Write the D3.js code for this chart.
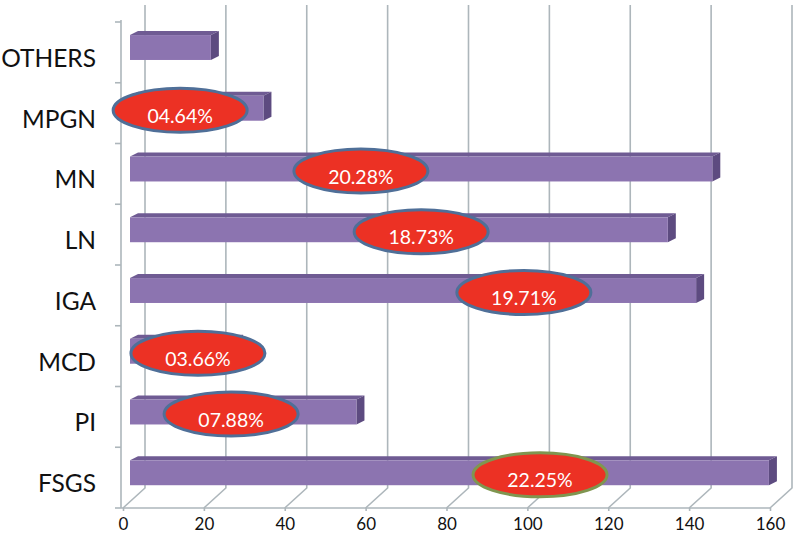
<!DOCTYPE html>
<html>
<head>
<meta charset="utf-8">
<script src="https://cdn.jsdelivr.net/npm/d3@7"></script>
<style>
  html, body { margin: 0; padding: 0; background: #ffffff; }
  svg { display: block; }
</style>
</head>
<body>
<svg id="chart" width="800" height="539"></svg>
<script>
// ---- data ----
const categories = ["OTHERS", "MPGN", "MN", "LN", "IGA", "MCD", "PI", "FSGS"];
const counts     = [20, 33, 144, 133, 140, 26, 56, 158];
const percentLabels = [null, "04.64%", "20.28%", "18.73%", "19.71%", "03.66%", "07.88%", "22.25%"];
// where each callout sits along the value axis (data units)
const calloutAt  = [null, 12.4, 57.1, 72.0, 97.4, 16.8, 25.0, 101.4];
const xTicks     = [0, 20, 40, 60, 80, 100, 120, 140, 160];

// ---- layout ----
const W = 800, H = 539;
const front = { left: 123, right: 770, top: 22, bottom: 508 };
const depth = { dx: 22, dy: -20 };     // back wall offset
const barShift = { dx: 7, dy: 0 };     // bar front face offset
const barDepth = { dx: 8, dy: -4 };    // bar thickness (3D)

const svg = d3.select("#chart");

const x = d3.scaleLinear().domain([0, 160]).range([front.left, front.right]);
const y = d3.scaleBand().domain(categories).range([front.top, front.bottom]).paddingInner(0).paddingOuter(0);
const bw = y.bandwidth();

const gridColor = "#adb6bb";

// back wall gridlines + floor diagonals
const grid = svg.append("g");
xTicks.forEach(t => {
  const fx = x(t);
  grid.append("path")
    .attr("d", `M${fx},${front.bottom} L${fx + depth.dx},${front.bottom + depth.dy} L${fx + depth.dx},${front.top + depth.dy + 3}`)
    .attr("fill", "none").attr("stroke", gridColor).attr("stroke-width", 1.6);
});

// floor front edge
grid.append("line")
  .attr("x1", front.left - 2).attr("x2", front.right)
  .attr("y1", front.bottom).attr("y2", front.bottom)
  .attr("stroke", gridColor).attr("stroke-width", 1.6);

// left wall vertical line + category ticks
const leftX = front.left - 2;
grid.append("line")
  .attr("x1", leftX).attr("x2", leftX)
  .attr("y1", front.top - 2).attr("y2", front.bottom)
  .attr("stroke", gridColor).attr("stroke-width", 1.6);
const boundaries = categories.map(c => y(c)).concat([front.bottom]);
boundaries.forEach(b => {
  grid.append("line")
    .attr("x1", leftX - 6).attr("x2", leftX)
    .attr("y1", b).attr("y2", b)
    .attr("stroke", gridColor).attr("stroke-width", 1.6);
});

// x axis labels via d3 axis
const xAxis = d3.axisBottom(x).tickValues(xTicks).tickSize(3).tickPadding(7).tickFormat(d3.format("d"));
const axG = svg.append("g").attr("transform", `translate(0,${front.bottom})`).call(xAxis);
axG.select(".domain").remove();
axG.selectAll(".tick line").attr("stroke", gridColor).attr("stroke-width", 1.6);
axG.selectAll(".tick text")
  .attr("font-family", "Lato, 'Open Sans', sans-serif")
  .attr("font-size", 17).attr("fill", "#111");

// category labels
svg.append("g").selectAll("text").data(categories).join("text")
  .attr("x", 96)
  .attr("y", d => y(d) + bw / 2 + 5)
  .attr("text-anchor", "end")
  .attr("dominant-baseline", "central")
  .attr("font-family", "Lato, 'Open Sans', sans-serif")
  .attr("font-size", 24.5)
  .attr("fill", "#111")
  .text(d => d);

// bars (3D)
const barFront = "#8c74b0", barTop = "#6f5b93", barSide = "#5d4b80";
const bars = svg.append("g");
categories.forEach((c, i) => {
  const x0 = x(0) + barShift.dx;
  const x1 = x(counts[i]) + barShift.dx;
  const yt = y(c) + bw * 0.215;
  const h = bw * 0.41;
  const g = bars.append("g");
  g.append("path")
    .attr("d", `M${x0},${yt} L${x0 + barDepth.dx},${yt + barDepth.dy} L${x1 + barDepth.dx},${yt + barDepth.dy} L${x1},${yt} Z`)
    .attr("fill", barTop);
  g.append("path")
    .attr("d", `M${x1},${yt} L${x1 + barDepth.dx},${yt + barDepth.dy} L${x1 + barDepth.dx},${yt + h + barDepth.dy} L${x1},${yt + h} Z`)
    .attr("fill", barSide);
  g.append("rect")
    .attr("x", x0).attr("y", yt).attr("width", x1 - x0).attr("height", h)
    .attr("fill", barFront);
});

// callouts
const callouts = svg.append("g");
categories.forEach((c, i) => {
  if (percentLabels[i] == null) return;
  const cx = x(calloutAt[i]) + barShift.dx;
  const cy = y(c) + bw * 0.215 + bw * 0.205 + 2;
  const g = callouts.append("g");
  g.append("ellipse")
    .attr("cx", cx).attr("cy", cy).attr("rx", 67).attr("ry", 22)
    .attr("fill", "#ec3124")
    .attr("stroke", c === "FSGS" ? "#7f9650" : "#4f6f98")
    .attr("stroke-width", 3);
  g.append("text")
    .attr("x", cx).attr("y", cy + 5)
    .attr("text-anchor", "middle").attr("dominant-baseline", "central")
    .attr("font-family", "Lato, 'Open Sans', sans-serif")
    .attr("font-size", 19.5).attr("fill", "#ffffff")
    .text(percentLabels[i]);
});
</script>
</body>
</html>
